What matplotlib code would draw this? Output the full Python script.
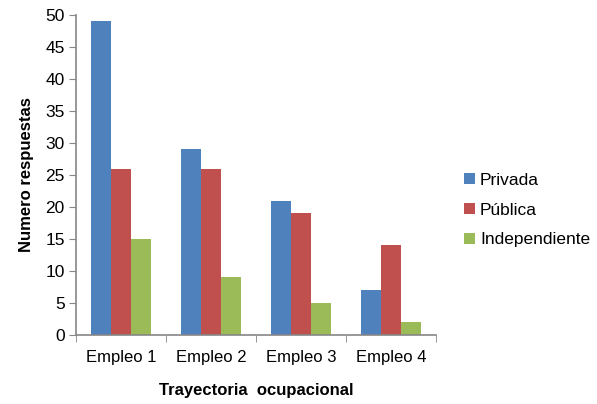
import matplotlib.pyplot as plt
import numpy as np

plt.rcParams['font.family'] = ['Liberation Sans', 'DejaVu Sans']

categorias = ['Empleo 1', 'Empleo 2', 'Empleo 3', 'Empleo 4']
privada = [49, 29, 21, 7]
publica = [26, 26, 19, 14]
independiente = [15, 9, 5, 2]
series = ['Privada', 'Pública', 'Independiente']
colores = ['#4F81BD', '#C0504D', '#9BBB59']

fig = plt.figure(figsize=(5.97, 4.04), dpi=100)
ax = fig.add_axes([0.127, 0.171, 0.603, 0.792])

x = np.arange(len(categorias))
w = 0.222
for i, (vals, lab, c) in enumerate(zip([privada, publica, independiente], series, colores)):
    ax.bar(x + (i - 1) * w, vals, width=w, color=c, label=lab)

ax.set_xlim(-0.5, 3.5)
ax.set_ylim(0, 50)
ax.set_yticks(range(0, 51, 5))
ax.set_xticks(x)
ax.set_xticklabels(categorias, fontsize=12)
ax.set_xticks(np.arange(-0.5, 4, 1), minor=True)
ax.tick_params(axis='x', which='major', length=0, pad=11)
ax.tick_params(axis='x', which='minor', length=5, color='#868686')
ax.tick_params(axis='y', labelsize=12.5, length=5, color='#868686', pad=3)

for s in ['top', 'right']:
    ax.spines[s].set_visible(False)
for s in ['left', 'bottom']:
    ax.spines[s].set_color('#868686')
    ax.spines[s].set_linewidth(1.2)

ax.set_xlabel('Trayectoria  ocupacional', fontsize=12, fontweight='bold', labelpad=13)
ax.set_ylabel('Numero respuestas', fontsize=12, fontweight='bold', labelpad=8)

ax.legend(loc='center left', bbox_to_anchor=(1.06, 0.39), frameon=False, fontsize=12.5,
          borderaxespad=0, handlelength=0.6, handleheight=0.6, handletextpad=0.3,
          labelspacing=0.85)

fig.savefig('out.png', dpi=100)
